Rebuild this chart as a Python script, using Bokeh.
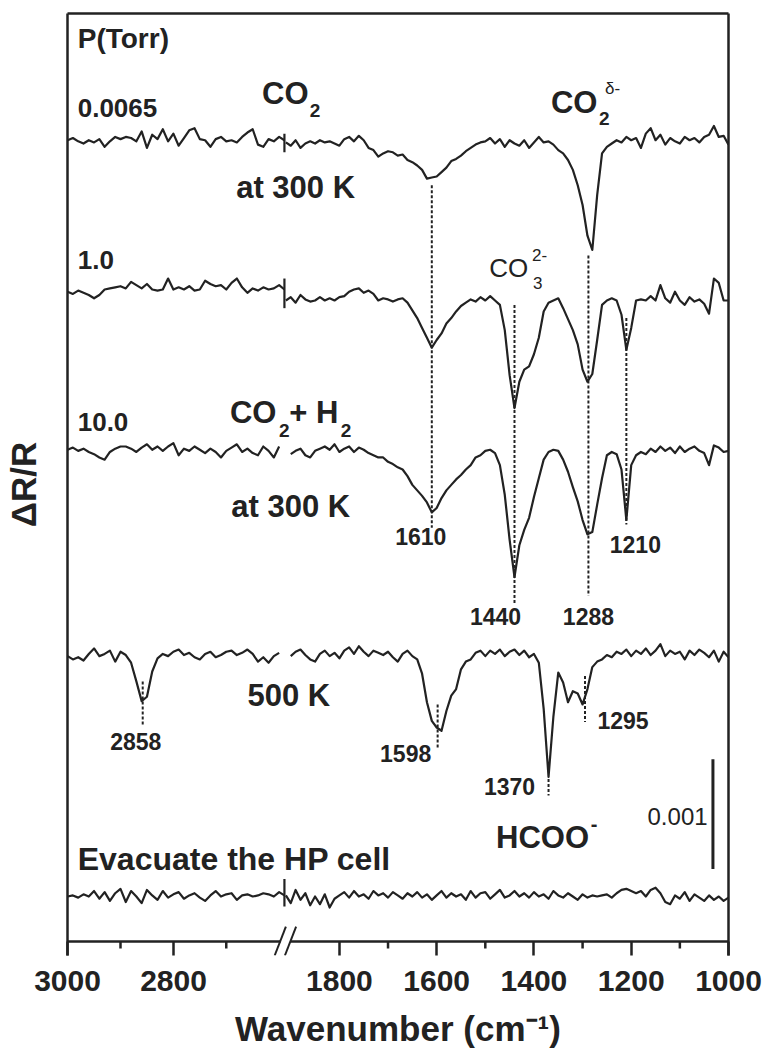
from bokeh.plotting import figure
from bokeh.models import Range1d, FixedTicker, LinearAxis
from bokeh.core.properties import value
from bokeh.embed import file_html
from bokeh.resources import INLINE

nan = float("nan")

# ---------------- data ----------------
# wavenumber sampling (cm^-1) of the two plotted windows (axis is broken between them)
WN_HIGH = list(range(3000, 2589, -10))   # 3000 ... 2590
WN_LOW = list(range(1910, 999, -10))     # 1910 ... 1000

# Delta R/R in units of 1e-5, each trace relative to its own baseline
# 0.0065 Torr CO2, 300 K
S1_HIGH = [2, 4, 1, -1, 2, 0, 3, -4, 1, 5, 3, 5, 4, 1, 10, -5, 7, 3, 12, 1,
           8, -3, 4, 11, 13, 3, 2, -4, 3, 5, 1, 2, 0, 5, 9, 12, -2, -4, 3, 1, 5, 2]
S1_LOW = [0, -3, 2, -5, -1, 1, -1, 2, 0, 1, -1, -3, 3, 5, 1, 6, 2, -5, -7, -13,
          -10, -8, -9, -12, -11, -16, -18, -21, -25, -33, -32, -31, -27, -23, -17, -15, -12, -8, -5, -2,
          0, 1, 4, -1, 3, -4, 2, -1, -3, 2, -5, 0, 5, 0, 1, -2, -7, -10, -16, -25,
          -39, -57, -85, -98, -48, -10, -4, -1, 2, 0, 5, 2, 4, -5, 8, 13, 2, 7, -2, 4,
          1, -1, 5, 2, 4, 0, 5, 7, 15, 5, 6, -2]
# 1.0 Torr CO2 + H2, 300 K
S2_HIGH = [3, 1, 4, 2, 0, -3, 0, 5, 6, 7, 8, 6, 12, 9, 6, 10, 5, 4, 5, 15,
           5, 7, 5, 8, 4, 5, 13, 10, 8, 9, 5, 11, 15, 7, 2, 6, 4, 7, 5, 6, 9, 5]
S2_LOW = [-5, -2, -7, 0, -4, -6, -5, -2, -5, -3, -5, -2, -1, 3, 5, 6, 2, 4, 1, -5,
          -3, -4, -6, -4, -3, -7, -14, -21, -30, -39, -48, -41, -35, -26, -21, -15, -10, -7, -4, -6,
          -2, -5, -1, -5, -9, -32, -73, -103, -79, -68, -65, -54, -39, -15, -7, -5, -3, -12, -22, -32,
          -45, -68, -79, -72, -41, -9, -5, -3, -5, -18, -50, -30, -5, -4, -5, -1, -5, 9, -3, -7,
          3, -5, -9, -2, -6, -4, -8, -17, 15, 11, -5, -5]
# 10.0 Torr CO2 + H2, 300 K
S3_HIGH = [2, 4, 1, 3, 0, -2, -5, -7, 0, 3, 5, 5, 3, 0, 4, 7, 2, 5, 1, 5,
           8, -3, 3, 1, 5, 2, -1, 3, 0, -5, 1, 4, 7, 0, 3, -1, -3, 5, 1, -5, 5, nan]
S3_LOW = [nan, -2, 1, 3, -3, -5, 1, 3, 5, 2, 7, 0, 3, 5, 0, 4, 2, -1, -3, -5,
          -5, -9, -11, -14, -16, -22, -30, -35, -40, -46, -55, -51, -42, -35, -30, -25, -21, -16, -12, -5,
          -3, 1, 2, -1, -12, -39, -80, -114, -85, -71, -60, -41, -24, -7, 0, 2, 1, -7, -18, -32,
          -45, -62, -75, -73, -48, -24, -3, 0, -2, -16, -62, -12, -3, 0, -2, 3, 0, 5, 1, 4,
          -1, 5, 0, 3, 5, 1, -1, -12, 6, 4, 0, 1]
# 500 K
S4_HIGH = [0, -3, -1, -4, 2, 7, 0, 2, 5, -5, 4, 1, -6, -23, -41, -37, -14, -2, 2, 0,
           4, 6, 1, 3, -1, -3, 2, 4, -1, 1, 4, 5, 1, 3, 6, 2, -5, -1, -6, 0, 3, nan]
S4_LOW = [nan, 0, 4, 6, 1, -3, -5, 2, 5, 0, 3, -2, 5, 8, 2, 9, 4, 0, 5, 3,
          1, 4, -1, -5, 2, 5, 0, -3, -16, -42, -59, -65, -68, -50, -36, -30, -12, -5, -3, 3,
          5, 0, 5, 2, 6, 0, 4, 6, 1, 5, -1, 2, -6, -48, -110, -55, -15, -24, -42, -32,
          -34, -44, -30, -10, -5, -3, 1, -1, 4, 2, 6, 0, 5, 2, 7, 1, 5, 11, 0, 5,
          2, 4, -3, 5, 1, 6, 3, -1, 5, -5, 4, -1]
# evacuated HP cell
S5_HIGH = [-1, 0, -2, 1, -1, 4, -3, 3, -5, 2, 6, -6, 4, -1, -7, 5, 0, -4, 4, -2,
           1, 3, -3, 0, 2, -2, -5, 0, 4, -1, 1, 2, -4, 0, 1, -1, 0, 2, 1, -1, 3, 0]
S5_LOW = [0, -7, 5, -4, 2, -9, -1, -8, 1, -11, -3, 0, 3, -2, 4, -1, 1, -3, 4, 0,
          2, -2, 3, 0, -3, 2, -1, 3, -2, 1, -4, 0, 4, -2, 2, -1, 1, -4, 4, -2,
          2, 3, -3, 1, 5, -2, 0, 4, -1, 2, -2, 3, -1, 1, -3, 4, 0, -2, 2, -1,
          -4, 1, -2, 0, -1, 0, 1, -2, 2, 5, 6, 4, 2, 4, -1, 5, 7, 2, -6, -8,
          0, -3, 3, -5, 1, -2, -5, 0, -4, -1, -5, -2]

TRACES = [(S1_HIGH, S1_LOW), (S2_HIGH, S2_LOW), (S3_HIGH, S3_LOW),
          (S4_HIGH, S4_LOW), (S5_HIGH, S5_LOW)]
PRESSURES = ["0.0065", "1.0", "10.0"]

DOTTED_PEAKS = [1610, 1440, 1288, 1210, 2858, 1598, 1370, 1295]
PEAK_LABELS = ["1610", "1210", "1440", "1288", "2858", "1598", "1295", "1370"]

X_TICKS = [3000, 2800, 1800, 1600, 1400, 1200, 1000]
X_MINOR = [2900, 2700, 1700, 1500, 1300, 1100]
SCALE_BAR = 100          # 0.001 expressed in units of 1e-5

# ---------------- presentation ----------------
TRACE_BASELINES = [728, 589, 446, 260, 42]          # vertical stacking offsets
BREAK_JOGS = [(8, -9), (15, -12), None, None, (15, -10)]
DOTTED_TOP = [689, 580, 625, 568, 237, 216, 148, 242]
DOTTED_BOTTOM = [377, 307, 315, 380, 196, 175, 133, 200]
PEAK_LABEL_Y = [369, 362, 296, 296, 182, 171, 201, 141]
PEAK_LABEL_DX = [-11, 9, -19, 0, -7, -32, 38, -39]

INK = "#222222"
FONT = "Liberation Sans"
LW = 2.5

# broken axis: high window is drawn left of the break with a slightly different scale
HIGH_START = 2590
BREAK_AT = 1913
HIGH_STRETCH = 0.53 / 0.4875


def to_axis(wn):
    if wn >= HIGH_START:
        return BREAK_AT + (wn - HIGH_START) * HIGH_STRETCH
    return wn


ticks = [round(to_axis(w)) for w in X_TICKS]
TICK_DROP = -12.73     # frame bottom sits one tick length below the axis line (y = 0)

p = figure(width=767, height=1050, output_backend="svg", toolbar_location=None,
           title=None, x_range=Range1d(ticks[0], 1000), y_range=Range1d(TICK_DROP, 845.45),
           min_border_left=65, min_border_right=39, min_border_top=13, min_border_bottom=93)
p.outline_line_color = None
p.xgrid.visible = False
p.ygrid.visible = False
p.background_fill_color = "white"
p.border_fill_color = "white"

# spectra
xs_high = [to_axis(w) for w in WN_HIGH]
xs_low = [to_axis(w) for w in WN_LOW]
for (hi, lo), base, jog in zip(TRACES, TRACE_BASELINES, BREAK_JOGS):
    p.line(xs_high, [base + v for v in hi], line_color=INK, line_width=2.2, line_join="round")
    p.line(xs_low, [base + v for v in lo], line_color=INK, line_width=2.2, line_join="round")
    if jog is not None:
        p.segment(x0=[BREAK_AT], y0=[base + jog[0]], x1=[BREAK_AT], y1=[base + jog[1]],
                  line_color=INK, line_width=2.2)

# dotted peak markers
dx = [to_axis(w) for w in DOTTED_PEAKS]
p.segment(x0=dx, y0=DOTTED_TOP, x1=dx, y1=DOTTED_BOTTOM, line_color=INK,
          line_width=2, line_dash="3 2")

# peak labels
p.text(x=[to_axis(int(s)) for s in PEAK_LABELS], y=PEAK_LABEL_Y, text=PEAK_LABELS,
       x_offset=PEAK_LABEL_DX, text_font=value(FONT), text_font_size="23px",
       text_font_style="bold", text_align="center", text_baseline="middle", text_color=INK)


def txt(x, y, s, size, style="bold", align="left"):
    p.text(x=[x], y=[y], text=[s], text_font=value(FONT), text_font_size=f"{size}px",
           text_font_style=style, text_align=align, text_baseline="middle", text_color=INK)


txt(2338, 823, "P(Torr)", 28)
for s, y in zip(PRESSURES, [759, 621, 473]):
    txt(2338, y, s, 26)

# CO2 (top)
txt(1959, 773, "CO", 31)
txt(1861, 757, "2", 19)
txt(1890, 687, "at 300 K", 31, align="center")
# CO2 delta-
txt(1365, 764, "CO", 31)
txt(1266, 750, "2", 19)
txt(1254, 777, "δ-", 17, style="normal")
# CO3 2-
txt(1492, 614, "CO", 26, style="normal")
txt(1402, 600, "3", 17, style="normal")
txt(1404, 625, "2-", 17, style="normal")
# CO2 + H2
txt(2025, 482, "CO", 31)
txt(1924, 466, "2", 19)
txt(1903, 482, "+ H", 31)
txt(1797, 466, "2", 19)
txt(1900, 396, "at 300 K", 31, align="center")
txt(1904, 224, "500 K", 31, align="center")
txt(2338, 75, "Evacuate the HP cell", 32)
# HCOO-
txt(1478, 95, "HCOO", 31)
txt(1283, 107, "-", 20)
# scale bar
txt(1043, 114, "0.001", 24, style="normal", align="right")
p.segment(x0=[1032], y0=[66], x1=[1032], y1=[66 + SCALE_BAR], line_color=INK, line_width=3)

# broken bottom axis line, break slashes and minor ticks
p.segment(x0=[ticks[0], 1901], y0=[0, 0], x1=[1921, 1000], y1=[0, 0],
          line_color=INK, line_width=LW)
p.segment(x0=[1933, 1912], y0=[TICK_DROP, TICK_DROP], x1=[1910, 1889], y1=[13.6, 13.6],
          line_color=INK, line_width=2)
mx = [to_axis(w) for w in X_MINOR]
p.segment(x0=mx, y0=[0] * len(mx), x1=mx, y1=[-6.4] * len(mx), line_color=INK, line_width=LW)

# bottom axis: ticks rise from the frame bottom up to the axis line
p.xaxis.ticker = FixedTicker(ticks=ticks)
p.xaxis.major_label_overrides = {t: str(w) for t, w in zip(ticks, X_TICKS)}
p.xaxis.axis_line_color = None
p.xaxis.major_tick_out = 0
p.xaxis.major_tick_in = 14
p.xaxis.minor_tick_out = 0
p.xaxis.minor_tick_in = 0
p.xaxis.major_tick_line_width = LW
p.xaxis.major_tick_line_color = INK
p.xaxis.major_label_text_font = FONT
p.xaxis.major_label_text_font_style = "bold"
p.xaxis.major_label_text_font_size = "30px"
p.xaxis.major_label_text_color = INK
p.xaxis.major_label_standoff = 15
p.xaxis.axis_label = "Wavenumber (cm⁻¹)"
p.xaxis.axis_label_text_font = FONT
p.xaxis.axis_label_text_font_style = "bold"
p.xaxis.axis_label_text_font_size = "35px"
p.xaxis.axis_label_text_color = INK
p.xaxis.axis_label_standoff = 15

p.yaxis.ticker = FixedTicker(ticks=[])
p.yaxis.major_tick_out = 0
p.yaxis.major_tick_in = 0
p.yaxis.minor_tick_out = 0
p.yaxis.minor_tick_in = 0
p.yaxis.major_label_standoff = 0
p.yaxis.axis_line_width = LW
p.yaxis.axis_line_color = INK
p.yaxis.axis_label = "ΔR/R"
p.yaxis.axis_label_text_font = FONT
p.yaxis.axis_label_text_font_style = "bold"
p.yaxis.axis_label_text_font_size = "35px"
p.yaxis.axis_label_text_color = INK
p.yaxis.axis_label_standoff = 25

for side in ("above", "right"):
    ax = LinearAxis(ticker=FixedTicker(ticks=[]), major_tick_out=0, major_tick_in=0,
                    minor_tick_out=0, minor_tick_in=0, major_label_standoff=0,
                    axis_line_width=LW, axis_line_color=INK)
    p.add_layout(ax, side)

open("out.html", "w").write(file_html(p, INLINE))
